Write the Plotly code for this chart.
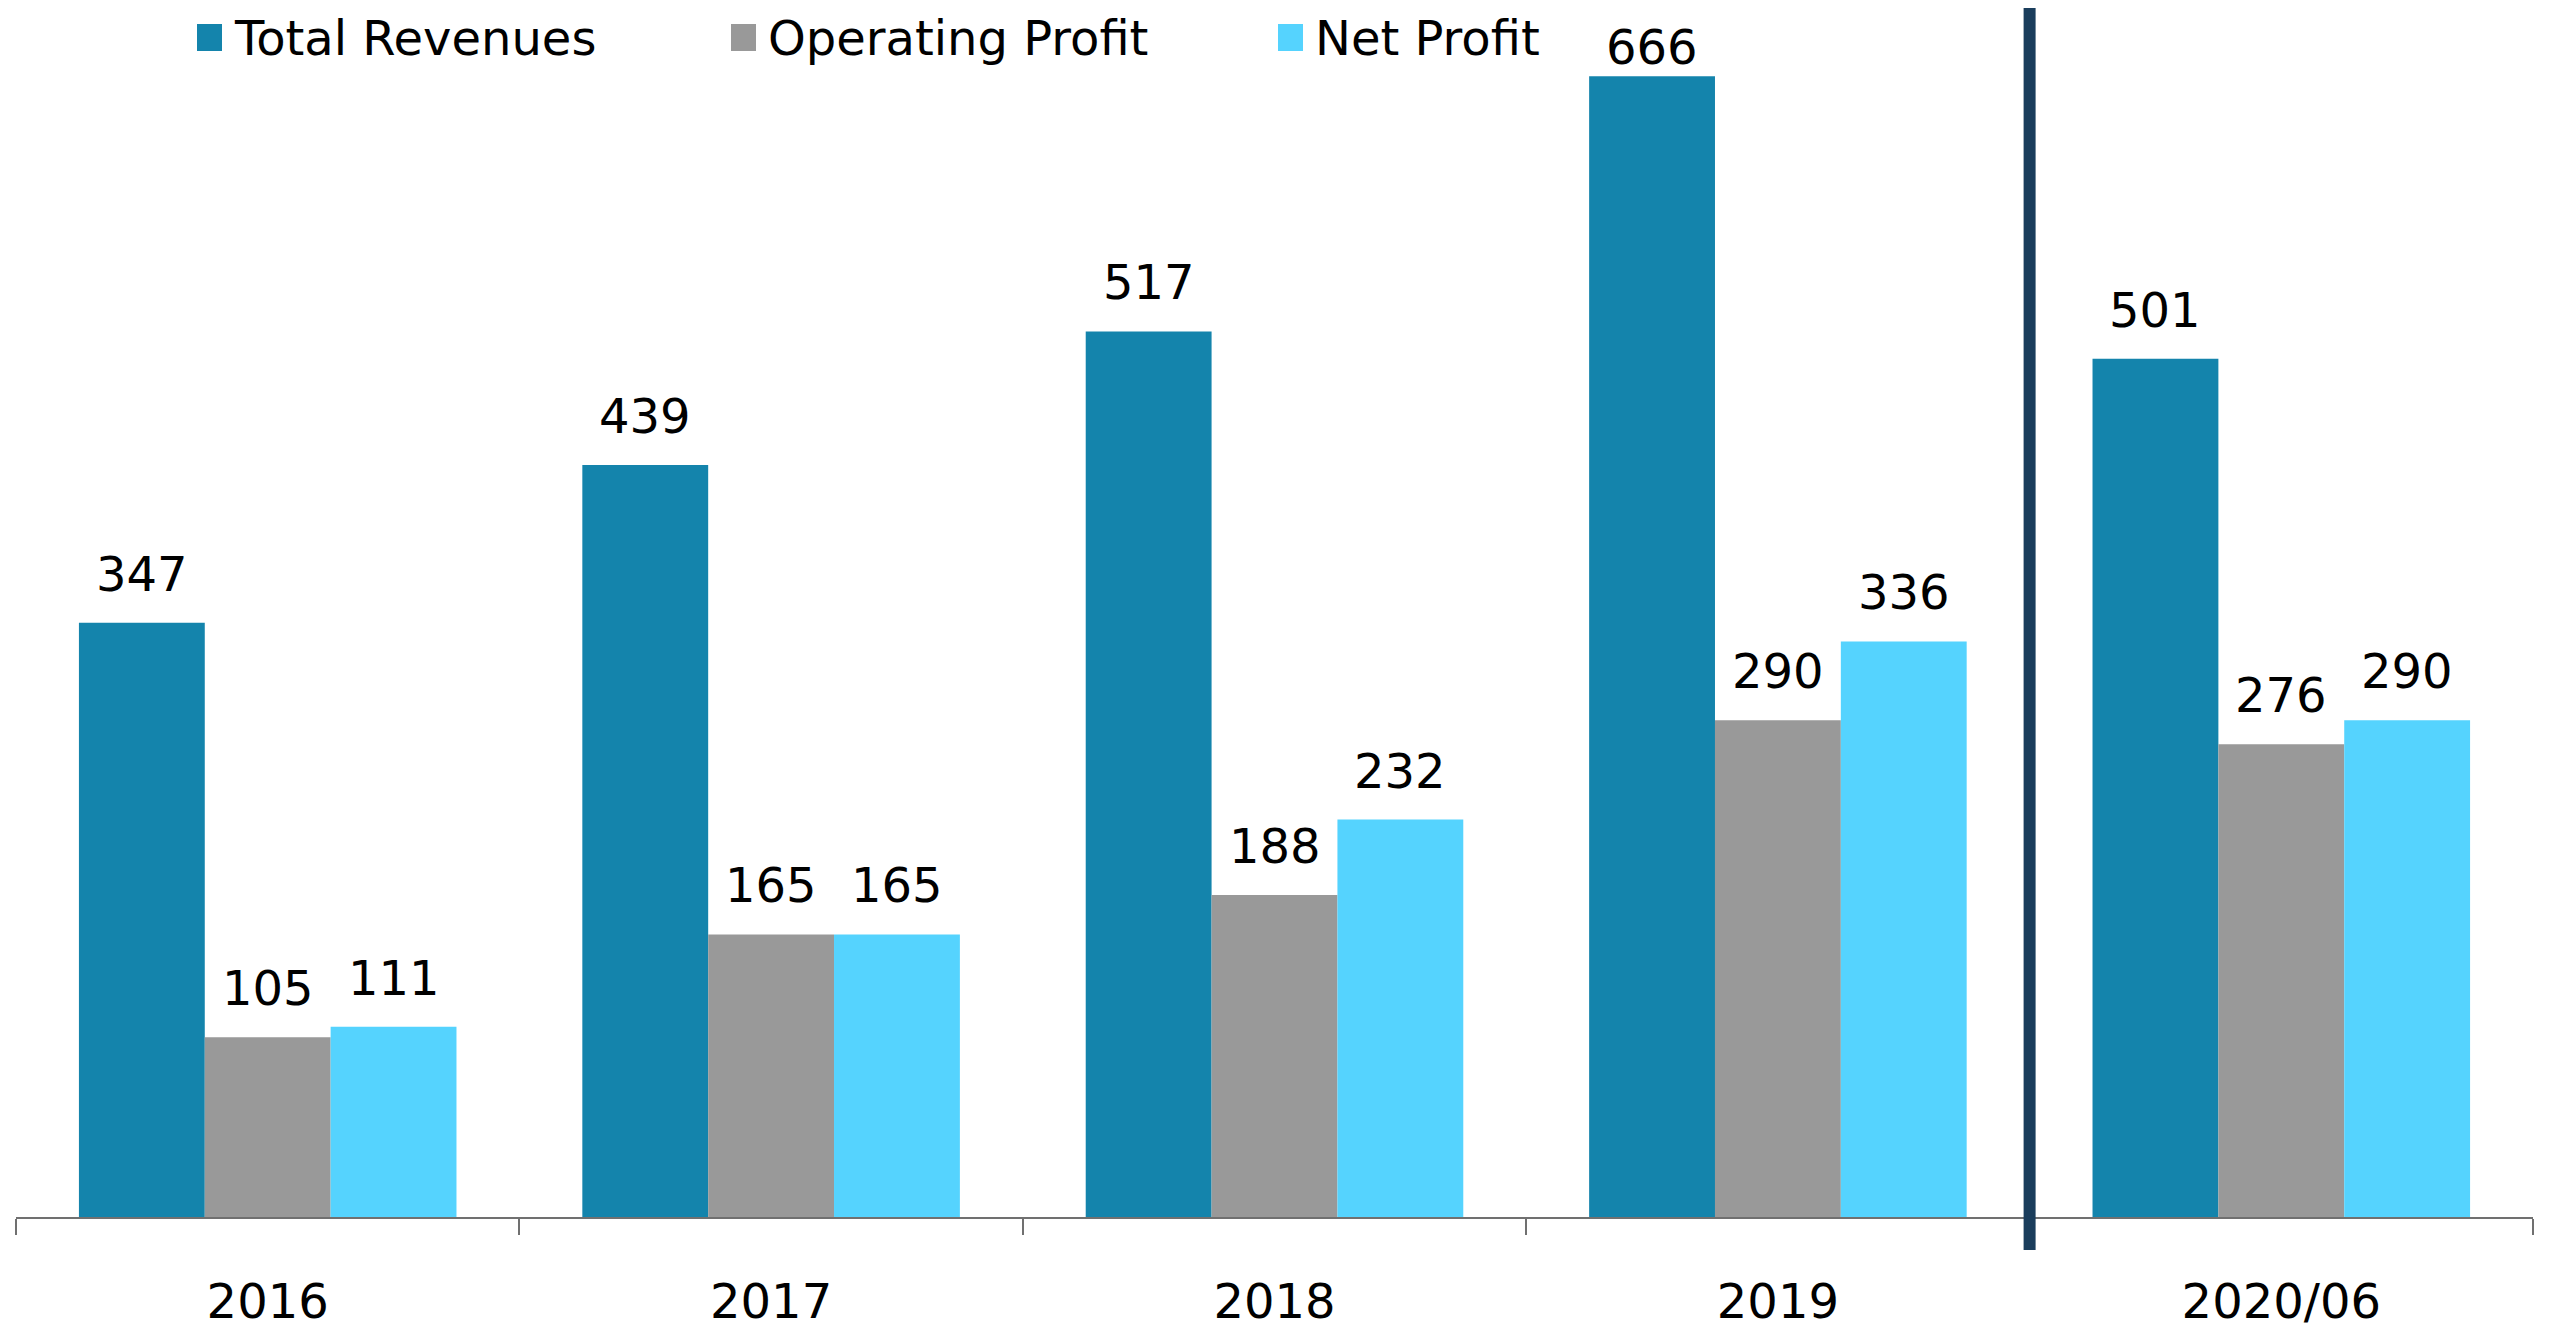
import plotly.graph_objects as go

# Periods and reported figures
periods = ["2016", "2017", "2018", "2019", "2020/06"]
total_revenues = [347, 439, 517, 666, 501]
operating_profit = [105, 165, 188, 290, 276]
net_profit = [111, 165, 232, 336, 290]

series_names = ["Total Revenues", "Operating Profit", "Net Profit"]
series_values = [total_revenues, operating_profit, net_profit]
series_colors = ["#1484AC", "#999999", "#55D3FE"]

FONT = "Verdana, DejaVu Sans, sans-serif"
FONT_SIZE = 48
BARGAP = 0.25
Y_MAX = 700

W, H = 2550, 1329
M_L, M_R, M_T, M_B = 16, 17, 18, 112
plot_w = W - M_L - M_R
plot_h = H - M_T - M_B

LABEL_GAP = 19      # space between a bar top and its value label
LABEL_H = 57        # approximate height of a value label box
LABEL_TOP_MIN = 20  # labels are pushed down rather than leave the page


def px_x(px):
    return (px - M_L) / plot_w


def px_y(py):
    return (H - M_B - py) / plot_h


# width of a single bar in pixels, used to centre the value labels
bar_px = plot_w / len(periods) * (1 - BARGAP) / len(series_names)

fig = go.Figure()
for i, (name, vals, color) in enumerate(zip(series_names, series_values, series_colors)):
    fig.add_trace(go.Bar(
        x=periods, y=vals, name=name,
        marker=dict(color=color, line=dict(width=0)),
        showlegend=False,
    ))
    offset = (i - (len(series_names) - 1) / 2) * bar_px
    # value labels above each bar (category index as x position)
    for j, v in enumerate(vals):
        bar_top_px = M_T + plot_h * (1 - v / Y_MAX)
        shift = min(LABEL_GAP, bar_top_px - LABEL_H - LABEL_TOP_MIN)
        fig.add_annotation(x=j, y=v, xref="x", yref="y", text=str(v),
                           showarrow=False, xanchor="center", yanchor="bottom",
                           xshift=offset, yshift=shift,
                           font=dict(family=FONT, size=FONT_SIZE, color="#000000"))

# Legend drawn as coloured squares with labels
legend_square_x = [197, 731, 1278]
for name, color, lx in zip(series_names, series_colors, legend_square_x):
    fig.add_shape(type="rect", xref="paper", yref="paper",
                  x0=px_x(lx), x1=px_x(lx + 25), y0=px_y(51), y1=px_y(24),
                  fillcolor=color, line=dict(width=0))
    fig.add_annotation(xref="paper", yref="paper", x=px_x(lx + 35), y=px_y(38),
                       text=name, showarrow=False, xanchor="left", yanchor="middle",
                       font=dict(family=FONT, size=FONT_SIZE, color="#000000"))

# Separator between full years and the half-year period
fig.add_shape(type="line", xref="x", yref="paper",
              x0=3.5, x1=3.5, y0=px_y(1250), y1=px_y(8),
              line=dict(color="#1A3D5C", width=12))

fig.update_layout(
    width=W, height=H,
    margin=dict(l=M_L, r=M_R, t=M_T, b=M_B, autoexpand=False),
    paper_bgcolor="#FFFFFF", plot_bgcolor="#FFFFFF",
    barmode="group", bargap=BARGAP, bargroupgap=0,
    font=dict(family=FONT, size=FONT_SIZE, color="#000000"),
)
fig.update_xaxes(
    type="category", categoryorder="array", categoryarray=periods,
    range=[-0.5, len(periods) - 0.5], automargin=False,
    showline=True, linecolor="#707070", linewidth=2,
    ticks="outside", tickson="boundaries", ticklen=16, tickcolor="#707070", tickwidth=2,
    showgrid=False, zeroline=False, ticklabelstandoff=41, tickangle=0,
    tickfont=dict(family=FONT, size=FONT_SIZE, color="#000000"),
)
fig.update_yaxes(range=[0, Y_MAX], visible=False, showgrid=False, zeroline=False,
                 automargin=False)

fig.write_html("out.html")
